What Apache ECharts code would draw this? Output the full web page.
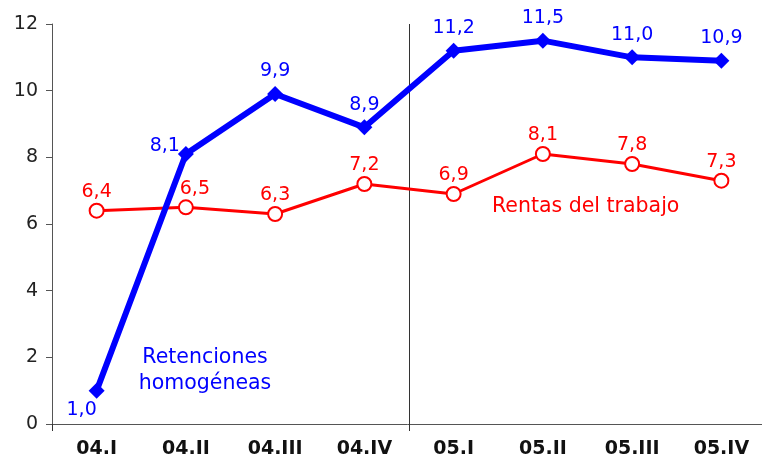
<!DOCTYPE html>
<html>
<head>
<meta charset="utf-8">
<script src="https://cdn.jsdelivr.net/npm/echarts@6/dist/echarts.min.js"></script>
<style>
  html, body { margin: 0; padding: 0; background: #fff; }
  #chart { width: 762px; height: 462px; }
</style>
</head>
<body>
<div id="chart"></div>
<script>
const quarters = ['04.I', '04.II', '04.III', '04.IV', '05.I', '05.II', '05.III', '05.IV'];
const retenciones = [1.0, 8.1, 9.9, 8.9, 11.2, 11.5, 11.0, 10.9];
const rentas = [6.4, 6.5, 6.3, 7.2, 6.9, 8.1, 7.8, 7.3];
const yTicks = [0, 2, 4, 6, 8, 10, 12];

const FONT = 'DejaVu Sans';
const fmt = p => p.value.toFixed(1).replace('.', ',');

// label tweaks for a few points
const blueLabel = {
  0: { position: 'bottom', distance: 2, offset: [-15, 0] },
  1: { position: 'left', distance: 6, offset: [8, -8] }
};
const redLabel = {
  1: { offset: [9, 0] }
};

const myChart = echarts.init(document.getElementById('chart'));
const option = {
  animation: false,
  grid: { left: 52, width: 714, top: 24, bottom: 38, outerBoundsMode: 'none', containLabel: false },
  xAxis: [
    {
      type: 'category',
      data: quarters,
      boundaryGap: true,
      axisLine: { lineStyle: { color: '#555', width: 1 } },
      axisTick: { show: false },
      axisLabel: { color: '#111', fontFamily: FONT, fontWeight: 'bold', fontSize: 19, margin: 16, interval: 0 }
    },
    {
      // hidden helper axis for the divider between 2004 and 2005
      type: 'value',
      position: 'bottom',
      min: 0,
      max: quarters.length,
      interval: 4,
      axisLine: { show: false },
      axisLabel: { show: false },
      axisTick: { show: true, length: 7, lineStyle: { color: '#333' } },
      splitLine: { show: true, lineStyle: { color: '#333', width: 1 } }
    }
  ],
  yAxis: {
    type: 'value',
    min: yTicks[0],
    max: yTicks[yTicks.length - 1],
    interval: 2,
    axisLine: { show: true, lineStyle: { color: '#555', width: 1 } },
    axisTick: { show: true, length: 6, lineStyle: { color: '#555' } },
    splitLine: { show: false },
    axisLabel: { color: '#222', fontFamily: FONT, fontSize: 19, margin: 14 }
  },
  series: [
    {
      name: 'Retenciones homogéneas',
      type: 'line',
      data: retenciones.map((v, i) => blueLabel[i] ? { value: v, label: blueLabel[i] } : v),
      symbol: 'diamond',
      symbolSize: 16,
      lineStyle: { color: '#0000ff', width: 6 },
      itemStyle: { color: '#0000ff' },
      label: {
        show: true, position: 'top', distance: 5, formatter: fmt,
        color: '#0000ff', fontFamily: FONT, fontSize: 19
      },
      z: 3
    },
    {
      name: 'Rentas del trabajo',
      type: 'line',
      data: rentas.map((v, i) => redLabel[i] ? { value: v, label: redLabel[i] } : v),
      symbol: 'circle',
      symbolSize: 14,
      lineStyle: { color: '#ff0000', width: 3 },
      itemStyle: { color: '#fff', borderColor: '#ff0000', borderWidth: 2 },
      label: {
        show: true, position: 'top', distance: 1, formatter: fmt,
        color: '#ff0000', fontFamily: FONT, fontSize: 19
      },
      z: 2
    }
  ],
  graphic: [
    {
      type: 'text', x: 205, y: 345,
      style: {
        text: 'Retenciones\nhomogéneas', fill: '#0000ff', font: '20.5px "DejaVu Sans"',
        align: 'center', lineHeight: 26
      }
    },
    {
      type: 'text', x: 492, y: 196,
      style: { text: 'Rentas del trabajo', fill: '#ff0000', font: '20.5px "DejaVu Sans"' }
    }
  ]
};
myChart.setOption(option);
window.onresize = function() {
  myChart.resize();
};
</script>
</body>
</html>
